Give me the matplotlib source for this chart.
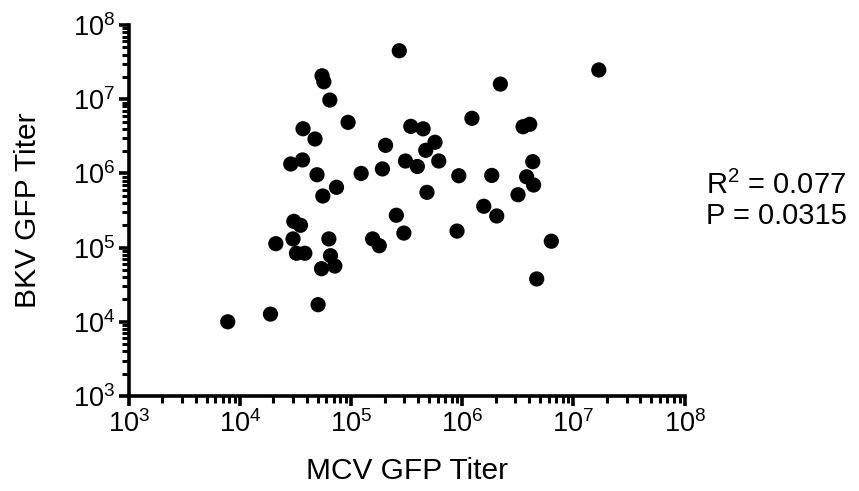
import numpy as np
import matplotlib
matplotlib.use("Agg")
import matplotlib.pyplot as plt
from matplotlib.ticker import LogLocator, FixedLocator, FuncFormatter

plt.rcParams['font.family'] = ['Liberation Sans', 'DejaVu Sans']
plt.rcParams['mathtext.default'] = 'regular'

# titers
mcv_titer = [2.71e5, 5.47e4, 5.68e4, 6.43e4, 9.38e4, 3.69e4, 4.73e4, 3.44e5,
             4.44e5, 2.04e5, 4.69e5, 2.86e4, 3.65e4, 4.93e4, 1.23e5, 1.91e5,
             3.08e5, 3.94e5, 7.38e4, 5.56e4, 4.81e5, 2.55e5, 3.05e4, 3.50e4,
             2.98e5, 1.69e7, 2.20e6, 1.22e6, 3.52e6, 4.04e6, 5.68e5, 6.14e5,
             9.30e5, 1.84e6, 4.30e6, 3.79e6, 4.38e6, 3.17e6, 1.56e6, 2.04e6,
             8.96e5, 2.10e4, 3.00e4, 6.30e4, 1.56e5, 1.79e5, 3.22e4, 3.83e4,
             6.52e4, 5.41e4, 7.13e4, 5.04e4, 1.88e4, 7.76e3, 6.32e6, 4.67e6]
bkv_titer = [4.50e7, 2.07e7, 1.72e7, 9.75e6, 4.88e6, 4.00e6, 2.91e6, 4.31e6,
             3.99e6, 2.39e6, 2.05e6, 1.34e6, 1.52e6, 9.60e5, 1.00e6, 1.15e6,
             1.47e6, 1.24e6, 6.50e5, 4.96e5, 5.56e5, 2.73e5, 2.26e5, 2.00e5,
             1.57e5, 2.48e7, 1.60e7, 5.53e6, 4.26e6, 4.59e6, 2.63e6, 1.47e6,
             9.30e5, 9.40e5, 1.44e6, 9.00e5, 6.98e5, 5.16e5, 3.61e5, 2.67e5,
             1.67e5, 1.13e5, 1.31e5, 1.31e5, 1.31e5, 1.06e5, 8.40e4, 8.40e4,
             7.78e4, 5.20e4, 5.65e4, 1.70e4, 1.27e4, 1.00e4, 1.22e5, 3.78e4]
r2_text = "R$^2$ = 0.077"
p_text = "P = 0.0315"

fig = plt.figure(figsize=(8.59, 4.91), dpi=100)
ax = fig.add_axes([0.150, 0.1935, 0.647, 0.7555])

ax.scatter(mcv_titer, bkv_titer, s=120, color='black', edgecolors='none',
           zorder=3, clip_on=False)

ax.set_xscale('log')
ax.set_yscale('log')
ax.set_xlim(1e3, 1e8)
ax.set_ylim(1e3, 1e8)

sci = FuncFormatter(lambda v, p: "10$^{%d}$" % round(np.log10(v)))
for axis in (ax.xaxis, ax.yaxis):
    axis.set_major_locator(FixedLocator([10.0**k for k in range(3, 9)]))
    axis.set_minor_locator(LogLocator(base=10, subs=np.arange(2, 10), numticks=20))
    axis.set_major_formatter(sci)
    axis.set_minor_formatter(FuncFormatter(lambda v, p: ""))

for side in ('top', 'right'):
    ax.spines[side].set_visible(False)
for side in ('left', 'bottom'):
    ax.spines[side].set_linewidth(2.6)

ax.tick_params(which='major', direction='out', length=7, width=2.6,
               labelsize=19.5, pad=3)
ax.tick_params(which='minor', direction='out', length=5, width=2.2)

ax.set_xlabel("MCV GFP Titer", fontsize=21.5, labelpad=14)
ax.set_ylabel("BKV GFP Titer", fontsize=21.5, labelpad=22)

fig.text(0.822, 0.622, r2_text, fontsize=21, va='center', ha='left')
fig.text(0.822, 0.560, p_text, fontsize=21, va='center', ha='left')

fig.savefig("out.png", dpi=100)
